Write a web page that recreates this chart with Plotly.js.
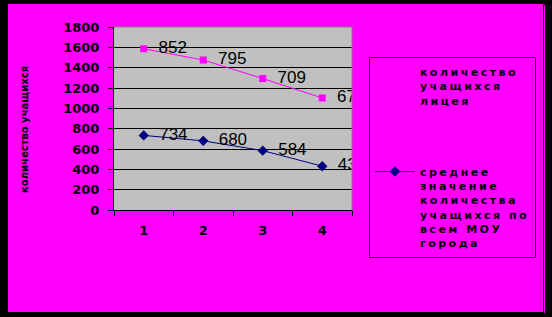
<!DOCTYPE html>
<html>
<head>
<meta charset="utf-8">
<script src="https://cdn.plot.ly/plotly-3.0.1.min.js"></script>
<style>
  html, body { margin: 0; padding: 0; background: #000; width: 552px; height: 317px; overflow: hidden; }
  #wrap { position: absolute; left: 8px; top: 4px; width: 535px; height: 308px; }
  #edge { position: absolute; left: 544px; top: 5px; width: 1px; height: 308px; background: #FF00FF; }
  .legendtext { letter-spacing: 2.5px; }
</style>
</head>
<body>
<div id="wrap"></div>
<div id="edge"></div>
<script>
var categories = ['1', '2', '3', '4'];
var cityAverage = [734, 680, 584, 431];
var lyceumCount = [852, 795, 709, 671];
var seriesNames = ['среднее<br>значение<br>количества<br>учащихся по<br>всем МОУ<br>города', 'количество<br>учащихся<br>лицея'];
var yTickValues = [0, 200, 400, 600, 800, 1000, 1200, 1400, 1600, 1800];
var yTitle = 'количество учащихся';

var labelFont = {family: 'Liberation Sans, Arial, sans-serif', size: 17, color: '#000'};

var traces = [
  {
    x: categories, y: cityAverage, text: cityAverage.map(String),
    texttemplate: '\u00A0\u00A0%{text}',
    name: seriesNames[0], legendgroup: 'a', legendrank: 2,
    type: 'scatter', mode: 'lines+markers+text', stackgroup: 'one', fill: 'none',
    line: {color: '#000080', width: 1},
    marker: {symbol: 'diamond', size: 8, color: '#000080'},
    textposition: 'middle right',
    textfont: labelFont,
    hoverinfo: 'skip'
  },
  {
    x: categories, y: lyceumCount, text: lyceumCount.map(String),
    texttemplate: '\u00A0\u00A0%{text}',
    name: seriesNames[1], legendgroup: 'b', legendrank: 1,
    type: 'scatter', mode: 'lines+markers+text', stackgroup: 'one', fill: 'none',
    line: {color: '#FF00FF', width: 1},
    marker: {symbol: 'square', size: 7, color: '#FF00FF'},
    textposition: 'middle right',
    textfont: labelFont,
    hoverinfo: 'skip'
  }
];

var tickFont = {family: 'DejaVu Sans, sans-serif', size: 13, color: '#000', weight: 'bold'};

var layout = {
  width: 535, height: 308,
  margin: {l: 106, r: 191, t: 23, b: 102, pad: 0, autoexpand: false},
  paper_bgcolor: '#FF00FF',
  plot_bgcolor: '#C0C0C0',
  showlegend: true,
  xaxis: {
    type: 'category', tickson: 'boundaries', range: [-0.5, 3.5],
    showgrid: false, zeroline: false,
    showline: true, linecolor: '#000', linewidth: 1,
    ticks: 'outside', ticklen: 5, tickcolor: '#000',
    ticklabelstandoff: 8,
    tickfont: tickFont, fixedrange: true
  },
  yaxis: {
    range: [0, 1800], tickvals: yTickValues,
    showgrid: true, gridcolor: '#000', gridwidth: 1,
    zeroline: false,
    showline: true, linecolor: '#000', linewidth: 1,
    ticks: 'outside', ticklen: 5, tickcolor: '#000',
    ticklabelstandoff: 6,
    tickfont: tickFont, fixedrange: true
  },
  legend: {
    x: 1.071, xanchor: 'left', y: 0.836, yanchor: 'top',
    bgcolor: 'rgba(0,0,0,0)', bordercolor: '#000', borderwidth: 1,
    traceorder: 'grouped', tracegroupgap: 54,
    valign: 'top', itemwidth: 40, maxheight: 260,
    font: {family: 'DejaVu Sans, sans-serif', size: 11, color: '#000', weight: 'bold'}
  },
  shapes: [
    {type: 'line', xref: 'paper', yref: 'paper', x0: 0, x1: 1, y0: 1, y1: 1, line: {color: '#808080', width: 1}},
    {type: 'line', xref: 'paper', yref: 'paper', x0: 1, x1: 1, y0: 0, y1: 1, line: {color: '#808080', width: 1}}
  ],
  annotations: [
    {text: yTitle, xref: 'paper', yref: 'paper', x: -0.374, y: 0.443, xanchor: 'center', yanchor: 'middle',
     textangle: -90, showarrow: false,
     font: {family: 'DejaVu Sans, sans-serif', size: 10, color: '#000', weight: 'bold'}}
  ]
};

Plotly.newPlot('wrap', traces, layout, {staticPlot: true, displayModeBar: false});
</script>
</body>
</html>
